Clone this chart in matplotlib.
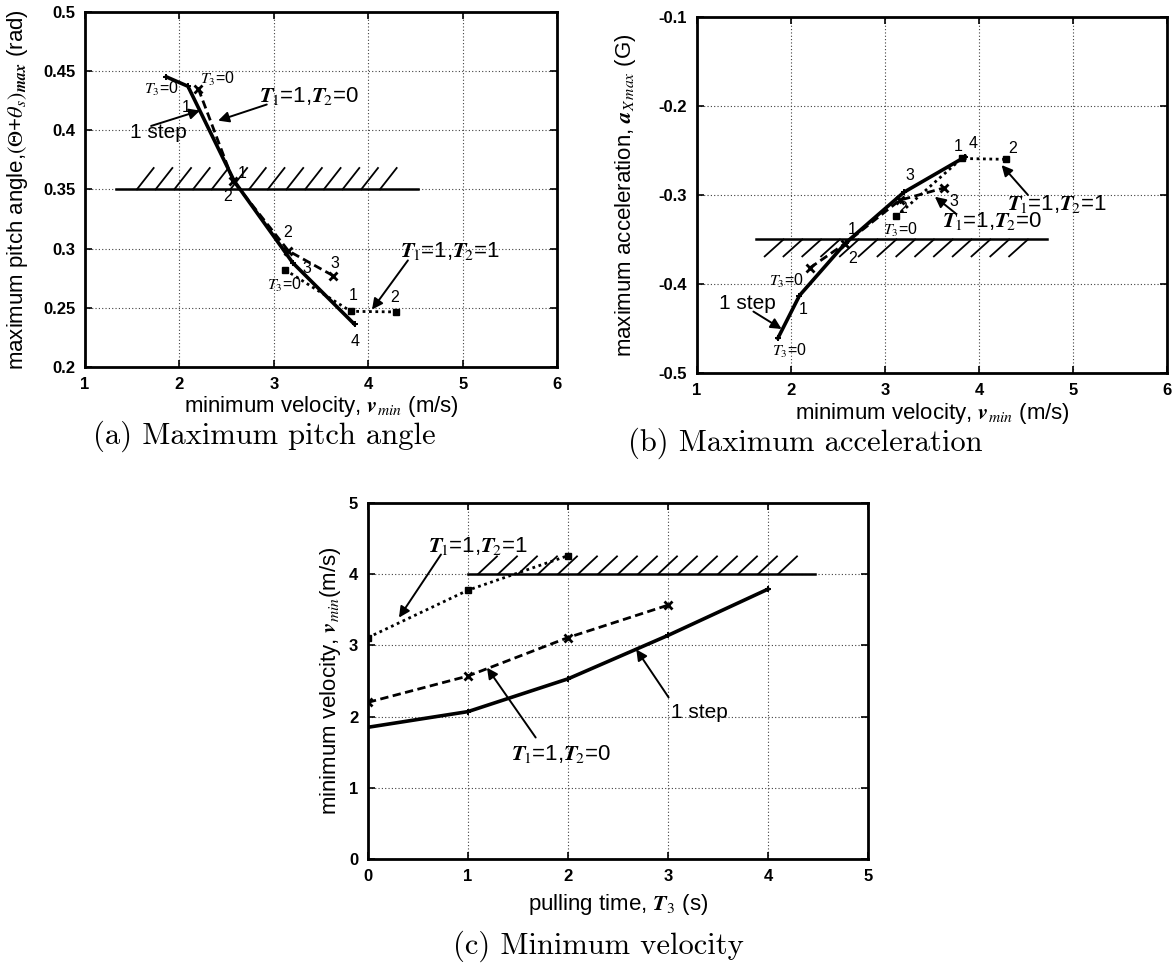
import matplotlib
matplotlib.use("Agg")
import matplotlib.pyplot as plt
import numpy as np

plt.rcParams["font.family"] = ["Liberation Sans", "DejaVu Sans"]
plt.rcParams["mathtext.fontset"] = "stix"

# ---- data ----
# minimum velocity (x of panels a, b) for each pulling scheme
VMIN_1STEP = [1.86, 2.09, 2.58, 3.20, 3.855]
VMIN_T2_0 = [2.20, 2.57, 3.155, 3.63]
VMIN_T2_1 = [3.12, 3.815, 4.29]

# (a) maximum pitch angle (rad)
PITCH_1STEP = [0.445, 0.437, 0.357, 0.288, 0.236]
PITCH_T2_0 = [0.435, 0.357, 0.298, 0.277]
PITCH_T2_1 = [0.282, 0.247, 0.2465]

# (b) maximum acceleration (G)
ACC_1STEP = [-0.461, -0.413, -0.354, -0.297, -0.257]
ACC_T2_0 = [-0.382, -0.355, -0.306, -0.292]
ACC_T2_1 = [-0.324, -0.259, -0.260]

# (c) minimum velocity vs pulling time T3
T3_1STEP = [0, 1, 2, 3, 4]
T3_T2_0 = [0, 1, 2, 3]
T3_T2_1 = [0, 1, 2]
VC_1STEP = [1.85, 2.07, 2.53, 3.14, 3.79]
VC_T2_0 = [2.20, 2.57, 3.11, 3.565]
VC_T2_1 = [3.11, 3.775, 4.26]

# constraint limits and the x-range of the hatched line
LIMIT_A, LIMIT_A_RANGE = 0.35, (1.33, 4.53)
LIMIT_B, LIMIT_B_RANGE = -0.35, (1.63, 4.72)
LIMIT_C, LIMIT_C_RANGE = 4.0, (1.0, 4.47)

LBL_12 = r"$\mathbfit{T}_{\!1}$=1,$\mathbfit{T}_{\!2}$=1"
LBL_10 = r"$\mathbfit{T}_{\!1}$=1,$\mathbfit{T}_{\!2}$=0"
LBL_T30 = r"$\mathit{T}_{3}$=0"

STYLE_1STEP = dict(color="black", lw=2.6, ls="-", marker="+", ms=5, mew=1.4)
STYLE_T2_0 = dict(color="black", lw=2.0, ls=(0, (3, 1.6)), marker="x", ms=6, mew=2.0)
STYLE_T2_1 = dict(color="black", lw=2.0, ls=(0, (1, 1.3)), marker="s", ms=5, mew=1)

TICK_FONT = dict(fontsize=12, fontweight="bold")
AXLABEL = 16
NOTE = 16


def style_axes(ax, xlim, ylim, xticks, yticks):
    ax.set_xlim(*xlim)
    ax.set_ylim(*ylim)
    ax.set_xticks(xticks)
    ax.set_yticks(yticks)
    ax.set_xticklabels([f"{t:g}" for t in xticks], **TICK_FONT)
    ax.set_yticklabels([f"{t:g}" for t in yticks], **TICK_FONT)
    ax.grid(True, color="0.25", lw=0.8, ls=(0, (1, 2)))
    ax.tick_params(direction="in", length=5, width=1.2, top=True, right=True,
                   pad=7)
    for sp in ax.spines.values():
        sp.set_linewidth(2.0)


def hatch(ax, y, xr, first, last, dx, dy, spacing, below=False):
    ax.plot(list(xr), [y, y], color="black", lw=1.8)
    for x0 in np.arange(first, last + 1e-6, spacing):
        if below:
            ax.plot([x0, x0 + dx], [y - dy, y], color="black", lw=1.3)
        else:
            ax.plot([x0, x0 + dx], [y, y + dy], color="black", lw=1.3)


def arrow(ax, tail, tip):
    ax.annotate("", xy=tip, xytext=tail,
                arrowprops=dict(arrowstyle="-|>", color="black", lw=1.4,
                                mutation_scale=16, shrinkA=0, shrinkB=0))


def labels(ax, items, size=11.5):
    for x, y, s in items:
        ax.text(x, y, s, fontsize=size, ha="center", va="center")


fig = plt.figure(figsize=(11.76, 9.63), dpi=100)
ax_a = fig.add_axes([0.0723, 0.6189, 0.4014, 0.369])
ax_b = fig.add_axes([0.5927, 0.6127, 0.3997, 0.3697])
ax_c = fig.add_axes([0.3129, 0.108, 0.4252, 0.3697])

# ---------------- (a) ----------------
ax = ax_a
style_axes(ax, (1, 6), (0.2, 0.5), [1, 2, 3, 4, 5, 6],
           [0.2, 0.25, 0.3, 0.35, 0.4, 0.45, 0.5])
hatch(ax, LIMIT_A, LIMIT_A_RANGE, 1.55, 4.13, 0.177, 0.018, 0.198)
ax.plot(VMIN_T2_1, PITCH_T2_1, **STYLE_T2_1)
ax.plot(VMIN_T2_0, PITCH_T2_0, **STYLE_T2_0)
ax.plot(VMIN_1STEP, PITCH_1STEP, **STYLE_1STEP)
labels(ax, [(1.805, 0.4347, LBL_T30), (2.40, 0.443, LBL_T30),
            (2.07, 0.4188, "1"), (2.66, 0.3631, "1"), (2.513, 0.3442, "2"),
            (3.15, 0.3135, "2"), (3.646, 0.287, "3"), (3.345, 0.2829, "3"),
            (3.115, 0.269, LBL_T30), (3.84, 0.26, "1"), (4.28, 0.2584, "2"),
            (3.86, 0.2213, "4")])
ax.text(1.78, 0.3977, "1 step", fontsize=15, ha="center", va="center")
arrow(ax, (1.70, 0.4035), (2.218, 0.4165))
ax.text(3.37, 0.4286, LBL_10, fontsize=NOTE, ha="center", va="center")
arrow(ax, (2.925, 0.4216), (2.41, 0.408))
ax.text(4.34, 0.2983, LBL_12, fontsize=NOTE, ha="left", va="center")
arrow(ax, (4.42, 0.29), (4.04, 0.2485))
ax.set_xlabel(r"minimum velocity, $\mathbfit{v}_{min}$ (m/s)", fontsize=AXLABEL)
ax.set_ylabel(r"maximum pitch angle,$(\Theta$+$\theta_{s})_{\mathbfit{max}}$ (rad)",
              fontsize=AXLABEL)
ax.xaxis.set_label_coords(0.5, -0.076)
ax.yaxis.set_label_coords(-0.117, 0.5)

# ---------------- (b) ----------------
ax = ax_b
style_axes(ax, (1, 6), (-0.5, -0.1), [1, 2, 3, 4, 5, 6],
           [-0.5, -0.4, -0.3, -0.2, -0.1])
hatch(ax, LIMIT_B, LIMIT_B_RANGE, 1.72, 4.32, 0.2, 0.019, 0.2, below=True)
ax.plot(VMIN_T2_1, ACC_T2_1, **STYLE_T2_1)
ax.plot(VMIN_T2_0, ACC_T2_0, **STYLE_T2_0)
ax.plot(VMIN_1STEP, ACC_1STEP, **STYLE_1STEP)
labels(ax, [(2.134, -0.429, "1"), (2.66, -0.371, "2"), (3.26, -0.2776, "3"),
            (3.773, -0.2458, "1"), (3.935, -0.242, "4"), (4.36, -0.2477, "2"),
            (2.652, -0.339, "1"), (3.186, -0.315, "2"), (3.733, -0.3075, "3"),
            (1.95, -0.397, LBL_T30), (1.98, -0.4757, LBL_T30),
            (3.166, -0.339, LBL_T30)])
ax.text(1.54, -0.4215, "1 step", fontsize=15, ha="center", va="center")
arrow(ax, (1.6, -0.431), (1.9, -0.4506))
ax.text(4.14, -0.329, LBL_10, fontsize=NOTE, ha="center", va="center")
arrow(ax, (3.75, -0.3206), (3.53, -0.302))
ax.text(4.83, -0.310, LBL_12, fontsize=NOTE, ha="center", va="center")
arrow(ax, (4.52, -0.300), (4.24, -0.2664))
ax.set_xlabel(r"minimum velocity, $\mathbfit{v}_{min}$ (m/s)", fontsize=AXLABEL)
ax.set_ylabel(r"maximum acceleration, $\mathbfit{a}_{X\,max}$ (G)", fontsize=AXLABEL)
ax.xaxis.set_label_coords(0.5, -0.078)
ax.yaxis.set_label_coords(-0.126, 0.5)

# ---------------- (c) ----------------
ax = ax_c
style_axes(ax, (0, 5), (0, 5), [0, 1, 2, 3, 4, 5], [0, 1, 2, 3, 4, 5])
hatch(ax, LIMIT_C, LIMIT_C_RANGE, 1.1, 4.1, 0.19, 0.25, 0.2)
ax.plot(T3_T2_1, VC_T2_1, **STYLE_T2_1)
ax.plot(T3_T2_0, VC_T2_0, **STYLE_T2_0)
ax.plot(T3_1STEP, VC_1STEP, **STYLE_1STEP)
ax.text(1.1, 4.39, LBL_12, fontsize=NOTE, ha="center", va="center")
arrow(ax, (0.73, 4.276), (0.31, 3.39))
ax.text(3.31, 2.056, "1 step", fontsize=15, ha="center", va="center")
arrow(ax, (3.006, 2.27), (2.683, 2.944))
ax.text(1.93, 1.47, LBL_10, fontsize=NOTE, ha="center", va="center")
arrow(ax, (1.677, 1.706), (1.19, 2.687))
ax.set_xlabel(r"pulling time, $\mathbfit{T}_{3}$ (s)", fontsize=AXLABEL)
ax.set_ylabel(r"minimum velocity, $\mathbfit{v}_{min}$(m/s)", fontsize=AXLABEL)
ax.xaxis.set_label_coords(0.5, -0.092)
ax.yaxis.set_label_coords(-0.05, 0.5)

# captions
cap = dict(fontsize=22, family="cmr10", ha="center", va="center")
fig.text(264 / 1176, 1 - 436 / 963, "(a) Maximum pitch angle", **cap)
fig.text(805 / 1176, 1 - 443 / 963, "(b) Maximum acceleration", **cap)
fig.text(598 / 1176, 1 - 946 / 963, "(c) Minimum velocity", **cap)

fig.savefig("out.png", dpi=100)
